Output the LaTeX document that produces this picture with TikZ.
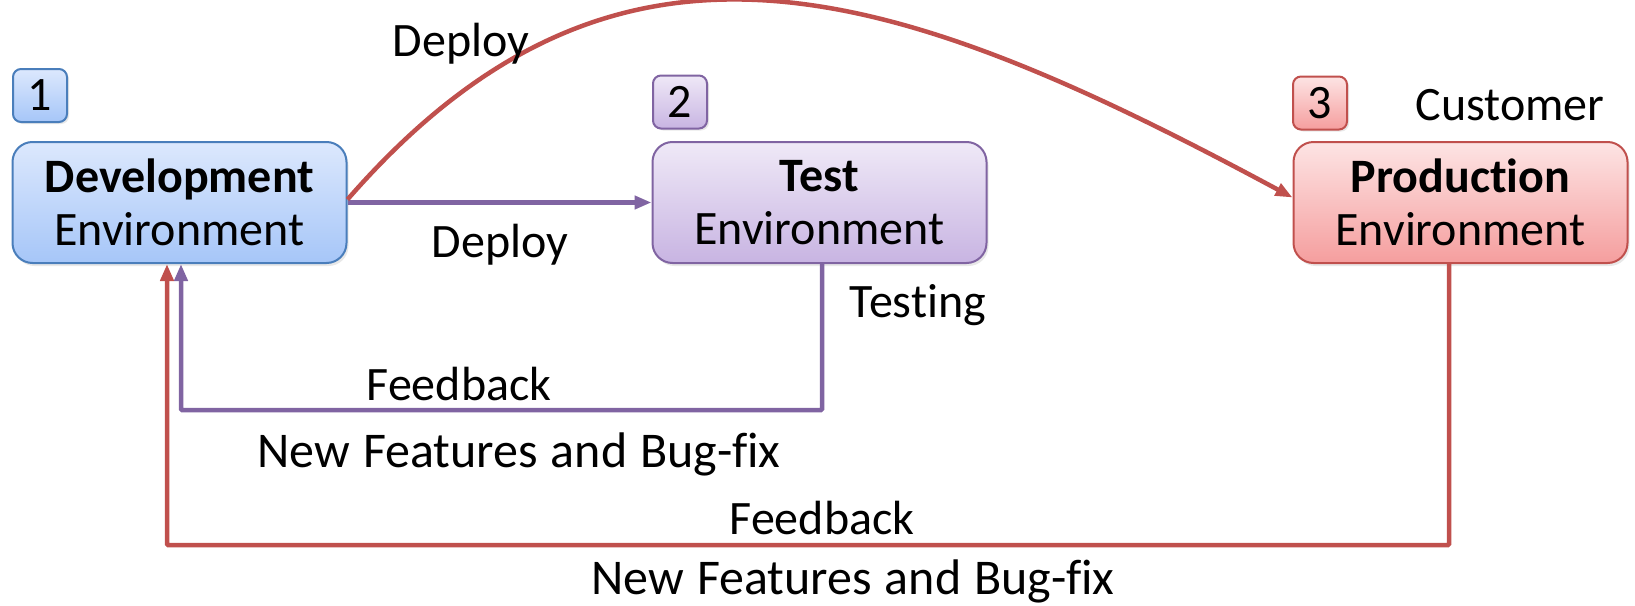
\documentclass[tikz,border=0pt]{standalone}
\usepackage{fontspec}
\setmainfont[Ligatures=NoCommon]{Carlito}
\usetikzlibrary{arrows.meta,shadows}

\definecolor{bluedge}{HTML}{4A7EBB}
\definecolor{bluetop}{HTML}{DCE8FD}
\definecolor{bluebot}{HTML}{A6C6F8}
\definecolor{purpedge}{HTML}{8064A2}
\definecolor{purptop}{HTML}{EFE9F7}
\definecolor{purpbot}{HTML}{C8B4E2}
\definecolor{rededge}{HTML}{C0504D}
\definecolor{redtop}{HTML}{FDE4E4}
\definecolor{redbot}{HTML}{F59E9E}

% long labels: a touch larger, with slightly wider word spacing
\newcommand\longlabel{\fontsize{50}{55}\selectfont\spaceskip=13pt\relax}

\tikzset{
  envbox/.style={rounded corners=20pt, line width=2pt, minimum width=334pt,
    minimum height=121pt, inner sep=0pt, align=center,
    drop shadow={shadow xshift=2pt, shadow yshift=-3pt, opacity=0.18}},
  badge/.style={rounded corners=8pt, line width=2pt, minimum width=54pt,
    minimum height=53pt, inner sep=0pt,
    drop shadow={shadow xshift=2pt, shadow yshift=-2pt, opacity=0.18}},
  bluefill/.style={draw=bluedge, top color=bluetop, bottom color=bluebot},
  purpfill/.style={draw=purpedge, top color=purptop, bottom color=purpbot},
  redfill/.style={draw=rededge, top color=redtop, bottom color=redbot},
  flow/.style={line width=4.5pt, -{Triangle[length=17pt,width=13pt]}},
  purpflow/.style={flow, draw=purpedge},
  redflow/.style={flow, draw=rededge},
  lbl/.style={inner sep=0pt}
}

\begin{document}
\begin{tikzpicture}[x=1pt, y=-1pt, font=\fontsize{48}{53}\selectfont]
\path[use as bounding box] (0,0) rectangle (1635,605);

% environment boxes
\node[envbox, bluefill] (dev) at (179.5,202.5) {\textbf{Development}\\Environment};
\node[envbox, purpfill] (test) at (819.5,202.5) {\textbf{Test}\\Environment};
\node[envbox, redfill] (prod) at (1460.5,202.5) {\textbf{Production}\\Environment};

% numbered badges
\node[badge, bluefill] (b1) at (40,95.5) {1};
\node[badge, purpfill] (b2) at (680,102) {2};
\node[badge, redfill] (b3) at (1320,103) {3};

\node[lbl] (cust) at (1510,105) {Customer};

% deploy arrows
\draw[purpflow] (dev.east) -- (test.west);
\node[lbl] (dep1) at (500,245) {Deploy};

\draw[redflow] ([yshift=3pt]dev.east) .. controls +(270,-310) and +(-400,-215) .. ([yshift=5pt]prod.west);
\node[lbl] (dep2) at (461,44) {Deploy};

% feedback loop from test
\coordinate (pcorner) at (181,410);
\draw[purpflow, rounded corners=1pt] ([xshift=2.5pt]test.south) |- (pcorner) -- (pcorner |- dev.south);
\node[lbl] (testing) at (918,305) {Testing};
\node[lbl] (fb1) at (459,384) {Feedback};
\node[lbl] (nf1) at (519,454) {\longlabel New Features and Bug-fix};

% feedback loop from production
\coordinate (rcorner) at (167,545);
\draw[redflow, rounded corners=1pt] ([xshift=-11.5pt]prod.south) |- (rcorner) -- (rcorner |- dev.south);
\node[lbl] (fb2) at (822,518) {Feedback};
\node[lbl] (nf2) at (853,581) {\longlabel New Features and Bug-fix};
\end{tikzpicture}
\end{document}
